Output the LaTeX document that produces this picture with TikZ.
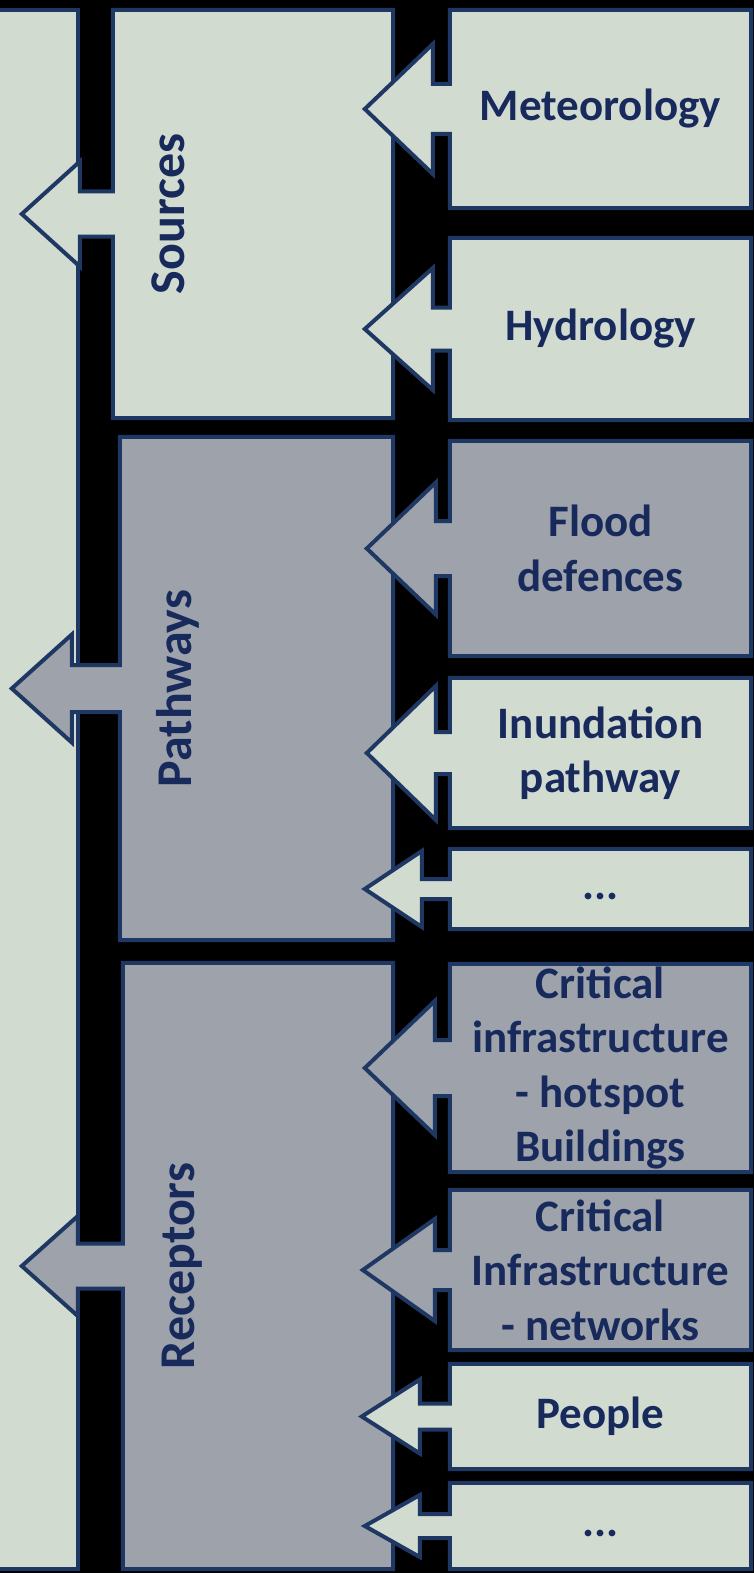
\documentclass[tikz,border=0pt]{standalone}
\usepackage{fontspec}
\setmainfont{Carlito}
\usetikzlibrary{calc}
\pgfdeclarelayer{back}
\pgfdeclarelayer{boxes}
\pgfsetlayers{back,boxes,main}
\definecolor{paleface}{RGB}{210,219,208}
\definecolor{greyface}{RGB}{157,162,171}
\definecolor{rim}{RGB}{31,56,99}
\definecolor{ink}{RGB}{24,42,92}
\tikzset{
	shell/.style = {
		draw=rim,
		line width=4pt,
		line join=miter
	},
	boxnode/.style = {
		rectangle,
		align=center,
		inner sep=0pt,
		text=ink,
		font=\fontsize{45}{54.5}\selectfont\bfseries
	},
	node_r/.style = {
		boxnode,
		minimum width=301pt
	},
	node_m/.style = {
		boxnode,
		minimum width=#1
	},
	node_title/.style = {
		boxnode,
		rotate=90,
		anchor=base,
		font=\fontsize{50}{60}\selectfont\bfseries
	},
}

\begin{document}
\begin{tikzpicture}[x=1pt,y=-1pt]
\begin{pgfonlayer}{back}
\fill[black] (0,0) rectangle (754,1573);
\end{pgfonlayer}
\useasboundingbox (0,0) rectangle (754,1573);

\node[boxnode, minimum width=83pt, minimum height=1559pt] (stage) at (36.5,789.5) {};
\begin{pgfonlayer}{boxes}
\filldraw[shell, fill=paleface] (stage.north west) rectangle (stage.south east);
\end{pgfonlayer}

\foreach \nm/\lx/\ty/\by/\fc/\sh/\hh/\sl/\hl/\txt in {
	src/113/10/418/paleface/22.5/52.5/33/58/Sources,
	pthw/120/437/940/greyface/23.5/54/48/60/Pathways,
	rcpt/123/963/1569/greyface/22.5/50/45/56/Receptors%
}{
	\node[node_m=393-\lx, minimum height=\by-\ty] (\nm) at ({(\lx+393)/2},{(\ty+\by)/2}) {};
	\node[node_title] (\nm-title) at ($(\nm.west)+(72,0)$) {\txt};
	\begin{pgfonlayer}{boxes}
	\filldraw[shell, fill=\fc] (\nm.north west) -- (\nm.north east) -- (\nm.south east) -- (\nm.south west)
		-- ($(\nm.west)+(0,\sh)$) -- ++(-\sl,0) -- ++(0,\hh-\sh) -- ($(\nm.west)+(-\sl-\hl,0)$)
		-- ($(\nm.west)+(-\sl,-\hh)$) -- ++(0,\hh-\sh) -- ($(\nm.west)+(0,-\sh)$) -- cycle;
	\end{pgfonlayer}
}

\foreach \nm/\ty/\by/\fc/\sh/\hh/\sl/\hl/\txt in {
	met/10/208/paleface/25/65/17/68/{Meteorology},
	hyd/238/420/paleface/21.5/61/17/68/{Hydrology},
	fld/441/656/greyface/27.5/66/14/69/{Flood\\defences},
	inu/678/828/paleface/21/67/14/69/{Inundation\\pathway},
	pmore/849/929/paleface/10/38/28/57/{\strut...},
	hot/964/1172/greyface/28/67/15/70/{Critical\\infrastructure\\- hotspot\\Buildings},
	net/1190/1350/greyface/20/51/15/72/{Critical\\Infrastructure\\- networks},
	ppl/1364/1469/paleface/13/37/30/58/{People},
	rmore/1483/1569/paleface/12/31/30/55/{\strut...}%
}{
	\node[node_r, minimum height=\by-\ty] (\nm) at (600.5,{(\ty+\by)/2}) {\txt};
	\begin{pgfonlayer}{boxes}
	\filldraw[shell, fill=\fc] (\nm.north west) -- (\nm.north east) -- (\nm.south east) -- (\nm.south west)
		-- ($(\nm.west)+(0,\sh)$) -- ++(-\sl,0) -- ++(0,\hh-\sh) -- ($(\nm.west)+(-\sl-\hl,0)$)
		-- ($(\nm.west)+(-\sl,-\hh)$) -- ++(0,\hh-\sh) -- ($(\nm.west)+(0,-\sh)$) -- cycle;
	\end{pgfonlayer}
}
\end{tikzpicture}
\end{document}
